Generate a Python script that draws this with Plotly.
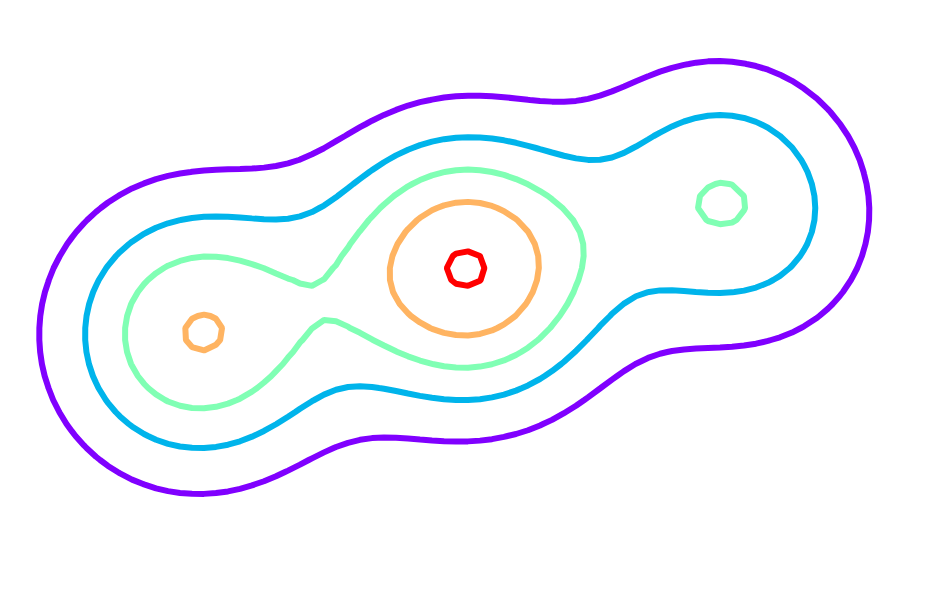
import numpy as np
import plotly.graph_objects as go

# three bumps (x, y in plot units, y upward)
peak_x = [4.670, 1.978, 7.306]
peak_y = [3.354, 2.700, 4.020]
peak_height = [5.041, 4.067, 3.054]
# spread along / across each bump's own axis, and that axis' angle (radians)
peak_sx = [0.935, 0.967, 0.925]
peak_sy = [0.973, 0.975, 0.993]
peak_angle = [-2.659, -0.217, -2.436]

# contour levels, low to high
levels = [1.064, 2.064, 3.064, 4.064, 5.064]
level_colors = ["#8000ff", "#00b4eb", "#80ffb4", "#ffb462", "#ff0000"]

# grid
x = np.arange(0, 9.41, 0.12)
y = np.arange(-0.12, 6.05, 0.12)
gx, gy = np.meshgrid(x, y)

z = np.zeros_like(gx)
for px, py, h, sx, sy, a in zip(peak_x, peak_y, peak_height, peak_sx, peak_sy, peak_angle):
    dx, dy = gx - px, gy - py
    u = np.cos(a) * dx + np.sin(a) * dy
    v = -np.sin(a) * dx + np.cos(a) * dy
    z += h * np.exp(-0.5 * ((u / sx) ** 2 + (v / sy) ** 2))

n = len(levels) - 1
colorscale = [[i / n, c] for i, c in enumerate(level_colors)]

fig = go.Figure()
fig.add_trace(go.Contour(
    x=x, y=y, z=z,
    contours=dict(coloring="lines", start=levels[0], end=levels[-1], size=levels[1] - levels[0]),
    colorscale=colorscale,
    line=dict(width=6, smoothing=0),
    showscale=False,
    hoverinfo="skip",
))

# the page body has an 8px margin, so the ranges are moved by that much
fig.update_layout(
    width=930, height=604,
    margin=dict(l=0, r=0, t=0, b=0),
    plot_bgcolor="white", paper_bgcolor="white",
    showlegend=False,
    xaxis=dict(range=[0.08, 9.38], visible=False),
    yaxis=dict(range=[-0.08, 5.96], visible=False),
)

fig.write_html("out.html")
